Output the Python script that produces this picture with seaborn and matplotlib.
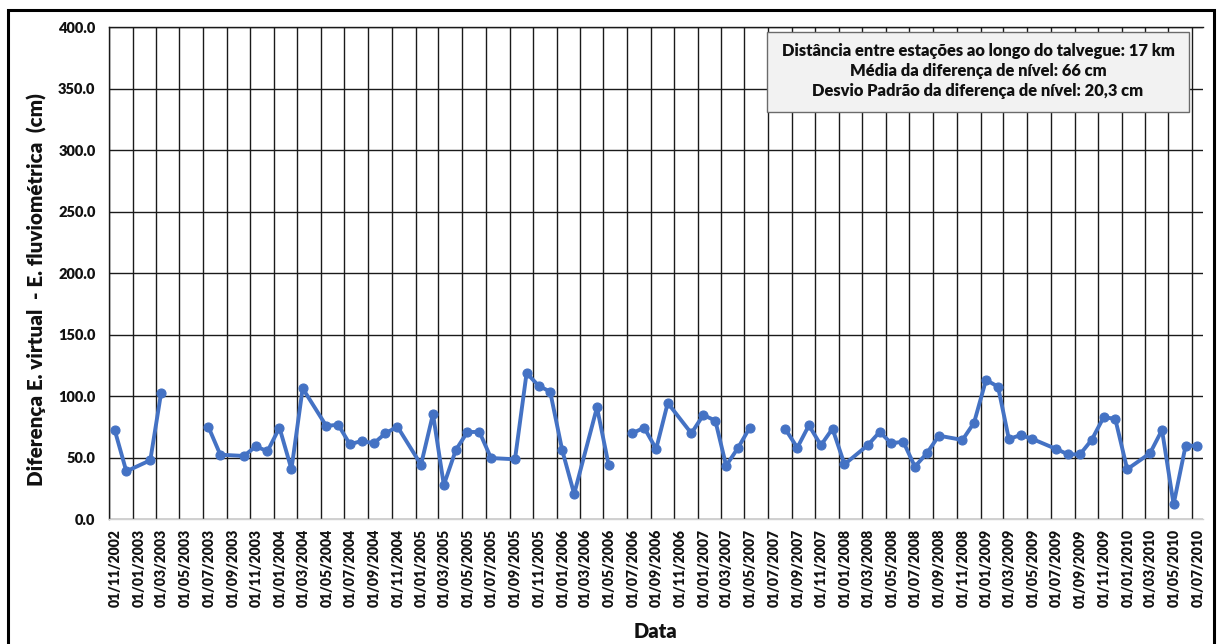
import matplotlib
matplotlib.use("Agg")
import matplotlib.pyplot as plt
import matplotlib.transforms as mtransforms
from matplotlib.patches import Rectangle
import numpy as np
import pandas as pd
import seaborn as sns

# Monthly level differences (cm); NaN marks a break in the record
datas = [
    "2002-11-15", "2002-12-15", "2003-02-15", "2003-03-15", "2003-05-15",
    "2003-07-15", "2003-08-15", "2003-10-15", "2003-11-15", "2003-12-15",
    "2004-01-15", "2004-02-15", "2004-03-15", "2004-05-15", "2004-06-15",
    "2004-07-15", "2004-08-15", "2004-09-15", "2004-10-15", "2004-11-15",
    "2005-01-15", "2005-02-15", "2005-03-15", "2005-04-15", "2005-05-15",
    "2005-06-15", "2005-07-15", "2005-09-15", "2005-10-15", "2005-11-15",
    "2005-12-15", "2006-01-15", "2006-02-15", "2006-04-15", "2006-05-15",
    "2006-06-15",
    "2006-07-15", "2006-08-15", "2006-09-15", "2006-10-15", "2006-12-15",
    "2007-01-15", "2007-02-15", "2007-03-15", "2007-04-15", "2007-05-15",
    "2007-07-01",
    "2007-08-15", "2007-09-15", "2007-10-15", "2007-11-15", "2007-12-15",
    "2008-01-15", "2008-03-15", "2008-04-15", "2008-05-15", "2008-06-15",
    "2008-07-15", "2008-08-15", "2008-09-15", "2008-11-15", "2008-12-15",
    "2009-01-15", "2009-02-15", "2009-03-15", "2009-04-15", "2009-05-15",
    "2009-07-15", "2009-08-15", "2009-09-15", "2009-10-15", "2009-11-15",
    "2009-12-15", "2010-01-15", "2010-03-15", "2010-04-15", "2010-05-15",
    "2010-06-15", "2010-07-15",
]
diferencas = [
    72.6, 39.0, 48.0, 102.9, np.nan,
    75.3, 52.5, 51.5, 59.3, 55.3,
    74.5, 40.7, 106.5, 75.9, 76.9,
    61.0, 63.7, 61.8, 69.9, 75.3,
    44.4, 85.6, 27.9, 56.3, 71.0,
    71.0, 49.8, 48.8, 118.9, 108.6,
    103.7, 56.3, 20.6, 91.0, 44.4,
    np.nan,
    69.9, 74.5, 57.2, 94.6, 69.9,
    84.8, 80.2, 43.6, 58.2, 74.5,
    np.nan,
    73.4, 58.2, 76.4, 60.2, 73.7,
    44.7, 60.2, 71.0, 61.8, 63.1,
    42.8, 53.7, 68.0, 64.5, 78.5,
    113.3, 107.8, 65.3, 68.5, 65.3,
    57.2, 52.8, 52.8, 64.5, 82.9,
    81.8, 40.7, 53.7, 72.6, 12.2,
    59.8, 59.8,
]
y_ticks = [0, 50, 100, 150, 200, 250, 300, 350, 400]
info_lines = [
    "Distância entre estações ao longo do talvegue: 17 km",
    "Média da diferença de nível: 66 cm",
    "Desvio Padrão da diferença de nível: 20,3 cm",
]

df = pd.DataFrame({"data": pd.to_datetime(datas), "dif": diferencas})
df["trecho"] = df["dif"].isna().cumsum()
df = df.dropna()

sns.set_style("white")
plt.rcParams["font.family"] = ["Lato", "DejaVu Sans"]
plt.rcParams["font.weight"] = "bold"

W, H = 1220, 644
fig = plt.figure(figsize=(W / 100, H / 100), dpi=100)
fig.patch.set_facecolor("white")

left, right, top, bottom = 109.3, 1203, 27.3, 519.3
ax = fig.add_axes([left / W, 1 - bottom / H, (right - left) / W, (bottom - top) / H])

sns.lineplot(
    data=df, x="data", y="dif", units="trecho", estimator=None,
    color="#4472C4", linewidth=2.8, marker="o", markersize=6.5,
    markeredgecolor="#4472C4", markeredgewidth=0.8, legend=False, ax=ax,
    zorder=3,
)

x0 = pd.Timestamp("2002-11-01")
x1 = pd.Timestamp("2010-07-30")
ax.set_xlim(x0, x1)
ax.set_ylim(0, 400)

ticks = pd.date_range("2002-11-01", "2010-07-01", freq="2MS")
ax.set_xticks(ticks)
ax.set_xticklabels([t.strftime("%d/%m/%Y") for t in ticks], rotation=90,
                   fontsize=10.1, fontweight="heavy", color="#111111",
                   ha="center", va="top")
ax.set_yticks(y_ticks)
ax.set_yticklabels([f"{v:.1f}" for v in y_ticks], fontsize=10.5,
                   fontweight="heavy", color="#111111")
ax.tick_params(axis="both", length=0)
ax.tick_params(axis="x", pad=7)
ax.tick_params(axis="y", pad=10)

shift = mtransforms.ScaledTranslation(6 / 100, 0, fig.dpi_scale_trans)
for lbl in ax.get_xticklabels():
    lbl.set_transform(lbl.get_transform() + shift)

ax.grid(True, which="major", axis="both", color="#1a1a1a", linewidth=1.0)
ax.set_axisbelow(True)

ax.spines["right"].set_visible(False)
ax.spines["top"].set_color("#1a1a1a")
ax.spines["top"].set_linewidth(1.0)
ax.spines["left"].set_color("#1a1a1a")
ax.spines["left"].set_linewidth(1.0)
ax.spines["bottom"].set_color("#d0d0d0")
ax.spines["bottom"].set_linewidth(1.0)

ax.set_xlabel("")
ax.set_ylabel("")
fig.text(37 / W, 1 - 290 / H, "Diferença E. virtual  - E. fluviométrica  (cm)",
         rotation=90, ha="center", va="center", fontsize=14.8,
         fontweight="heavy", color="#111111")
fig.text(655 / W, 1 - 632 / H, "Data", ha="center", va="center",
         fontsize=14.5, fontweight="heavy", color="#111111")

# statistics box
bx0, bx1, by0, by1 = 767, 1189, 32, 112
fig.patches.append(Rectangle((bx0 / W, 1 - by1 / H), (bx1 - bx0) / W, (by1 - by0) / H,
                             transform=fig.transFigure, facecolor="#F2F2F2",
                             edgecolor="#6b6b6b", linewidth=1.0, zorder=5))
for i, line in enumerate(info_lines):
    fig.text((bx0 + bx1) / 2 / W, 1 - (51 + 20 * i) / H, line, ha="center",
             va="center", fontsize=11.9, fontweight="heavy", color="#111111",
             zorder=6)

# outer chart frame
fig.patches.append(Rectangle((7.5 / W, -0.1), (1214 - 7.5) / W, 1.1 - 10.5 / H,
                             transform=fig.transFigure, facecolor="none",
                             edgecolor="black", linewidth=2.2, zorder=10,
                             clip_on=False))

fig.savefig("out.png", dpi=100)
